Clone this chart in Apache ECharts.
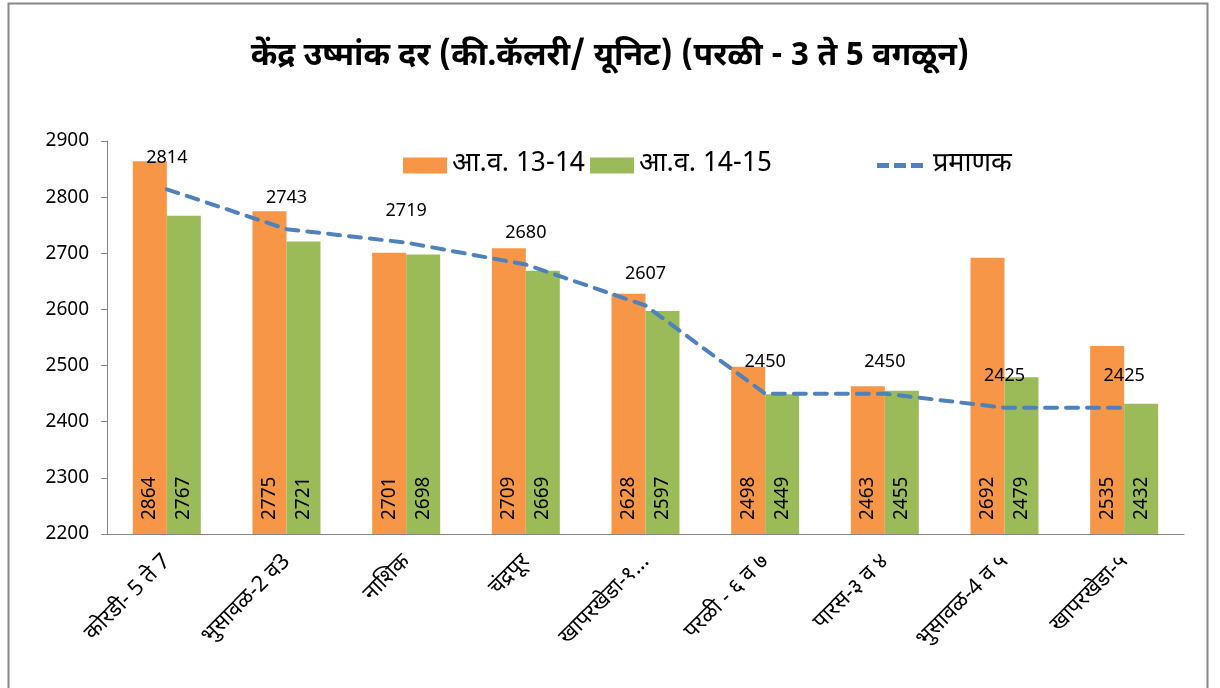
<!DOCTYPE html>
<html>
<head>
<meta charset="utf-8">
<script src="https://cdn.jsdelivr.net/npm/echarts@6/dist/echarts.min.js"></script>
<style>
  html, body { margin: 0; padding: 0; background: #fff; }
  #chart { width: 1220px; height: 688px; }
</style>
</head>
<body>
<div id="chart"></div>
<script>
// data
const categories = ['कोरडी- 5 ते 7', 'भुसावळ-2 व3', 'नाशिक', 'चंद्रपूर', 'खापरखेडा-१...', 'परळी - ६ व ७', 'पारस-३ व ४', 'भुसावळ-4 व ५', 'खापरखेडा-५'];
const year1314 = [2864, 2775, 2701, 2709, 2628, 2498, 2463, 2692, 2535];
const year1415 = [2767, 2721, 2698, 2669, 2597, 2449, 2455, 2479, 2432];
const standard = [2814, 2743, 2719, 2680, 2607, 2450, 2450, 2425, 2425];
const seriesNames = ['आ.व. 13-14', 'आ.व. 14-15', 'प्रमाणक'];

const font = '"Noto Sans", "Noto Sans Devanagari", sans-serif';
const narrow = '"Liberation Sans Narrow", "Noto Sans Devanagari", sans-serif';

const chart = echarts.init(document.getElementById('chart'));

const barLabel = {
  show: true,
  position: 'insideBottom',
  rotate: 90,
  align: 'left',
  verticalAlign: 'middle',
  distance: 14,
  color: '#000',
  fontSize: 19,
  fontFamily: font
};

// one legend per item so each sits where it does in the picture
const legendText = { fontSize: 27, color: '#000', fontFamily: narrow };
const dashIcon = 'path://M0,0h12v5h-12z M17,0h12v5h-12z M34,0h12v5h-12z';

chart.setOption({
  animation: false,
  title: {
    text: 'केंद्र उष्मांक दर (की.कॅलरी/ यूनिट) (परळी - 3 ते 5 वगळून)',
    left: 'center',
    top: 38,
    textStyle: { fontSize: 32, fontWeight: 'bold', color: '#000', fontFamily: narrow }
  },
  graphic: [{
    type: 'rect',
    shape: { x: 8.5, y: 3.5, width: 1199, height: 700 },
    style: { fill: 'none', stroke: '#878787', lineWidth: 2 },
    silent: true
  }],
  legend: [
    { top: 147, left: 398, itemWidth: 44, itemHeight: 16, itemGap: 8, textStyle: legendText,
      data: [{ name: seriesNames[0], icon: 'rect' }] },
    { top: 147, left: 585, itemWidth: 44, itemHeight: 16, textStyle: legendText,
      data: [{ name: seriesNames[1], icon: 'rect' }] },
    { top: 147, left: 872, itemWidth: 56, itemHeight: 5, textStyle: legendText,
      data: [{ name: seriesNames[2], icon: dashIcon, itemStyle: { color: '#4F81BD' } }] }
  ],
  grid: { left: 107, right: 36, top: 141, bottom: 154 },
  xAxis: {
    type: 'category',
    data: categories,
    axisLine: { lineStyle: { color: '#868686' } },
    axisTick: { length: 8, lineStyle: { color: '#868686' } },
    axisLabel: {
      rotate: 45,
      interval: 0,
      fontSize: 22,
      color: '#000',
      fontFamily: font,
      margin: 24
    }
  },
  yAxis: {
    type: 'value',
    min: 2200,
    max: 2900,
    interval: 100,
    splitLine: { show: false },
    axisLine: { show: true, lineStyle: { color: '#868686' } },
    axisTick: { show: true, length: 6, lineStyle: { color: '#868686' } },
    axisLabel: { fontSize: 19, color: '#000', fontFamily: font, margin: 18, formatter: v => String(v) }
  },
  series: [
    {
      name: seriesNames[0],
      type: 'bar',
      data: year1314,
      barWidth: 34,
      barGap: '0%',
      itemStyle: { color: '#F79646' },
      label: barLabel
    },
    {
      name: seriesNames[1],
      type: 'bar',
      data: year1415,
      barWidth: 34,
      barGap: '0%',
      itemStyle: { color: '#9BBB59' },
      label: barLabel
    },
    {
      name: seriesNames[2],
      type: 'line',
      data: standard,
      symbol: 'circle',
      symbolSize: 1,
      showSymbol: true,
      z: 5,
      lineStyle: { color: '#4F81BD', width: 4, type: [12, 9], cap: 'round' },
      itemStyle: { color: 'rgba(0,0,0,0)' },
      label: {
        show: true,
        position: 'top',
        distance: 22,
        color: '#000',
        fontSize: 18,
        fontFamily: font
      }
    }
  ]
});
</script>
</body>
</html>
